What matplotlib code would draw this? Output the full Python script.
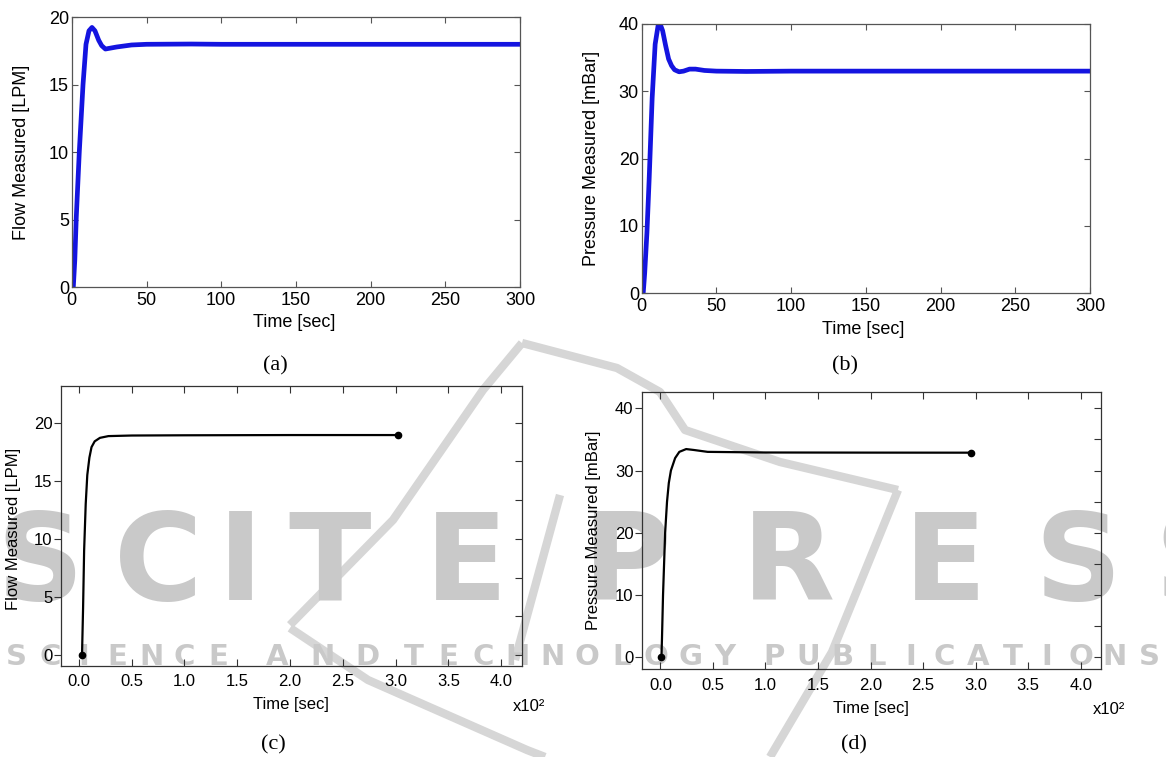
import numpy as np
import matplotlib
matplotlib.use('Agg')
import matplotlib.pyplot as plt
from matplotlib.lines import Line2D
from matplotlib.ticker import FormatStrFormatter

plt.rcParams['font.family'] = ['Liberation Sans', 'DejaVu Sans']

W, H = 1166, 757

# (a) flow measured [LPM], time in sec
time_a = [0, 1, 2, 3, 5, 7.5, 9.5, 11.5, 13.5, 15.5, 18, 20, 22.5, 25, 30, 40, 50, 80, 100, 300]
flow_a = [0, 0, 2.0, 5.2, 10, 15, 18, 19, 19.25, 19.0, 18.3, 17.9, 17.65, 17.7, 17.8, 17.95, 18.0, 18.02, 18.0, 18.0]

# (b) pressure measured [mBar], time in sec
time_b = [0, 1, 2, 3.5, 5, 7, 9, 11, 12.5, 14, 16, 18, 20, 22, 25, 28, 32, 36, 42, 50, 70, 100, 150, 300]
pres_b = [0, 0, 3, 9, 17, 29, 37, 39.8, 39.9, 39.0, 36.8, 34.8, 33.8, 33.2, 32.9, 33.0, 33.3, 33.3, 33.1, 33.0, 32.95, 33.0, 33.0, 33.0]

# (c) flow measured [LPM], time in x10^2 sec
time_c = [0.03, 0.04, 0.05, 0.065, 0.08, 0.10, 0.12, 0.15, 0.2, 0.28, 0.5, 1.0, 2.0, 3.02]
flow_c = [0, 4, 9, 13, 15.5, 17.0, 17.9, 18.4, 18.7, 18.85, 18.9, 18.92, 18.94, 18.94]

# (d) pressure measured [mBar], time in x10^2 sec
time_d = [0.01, 0.015, 0.025, 0.045, 0.063, 0.08, 0.1, 0.14, 0.18, 0.245, 0.32, 0.45, 1.0, 2.0, 2.96]
pres_d = [0, 3, 10, 20, 25, 28, 30, 32, 33.0, 33.45, 33.3, 33.0, 32.9, 32.88, 32.87]

captions = ['(a)', '(b)', '(c)', '(d)']


def box(left, top, right, bottom):
    return [left / W, 1 - bottom / H, (right - left) / W, (bottom - top) / H]


fig = plt.figure(figsize=(W / 100, H / 100), dpi=100)

#### watermark behind everything
wm = '#c9c9c9'
letters = 'SCITEPRESS'
letter_x = [40, 158, 240, 330, 466, 627, 788, 945, 1078, 1198]
for ch, x in zip(letters, letter_x):
    fig.text(x / W, 1 - 566 / H, ch, fontsize=87, fontweight='bold', color=wm,
             ha='center', va='center', family='DejaVu Sans', zorder=-5)

# subtitle words and their pixel spans
words = ['SCIENCE', 'AND', 'TECHNOLOGY', 'PUBLICATIONS']
word_span = [(0, 235), (255, 390), (397, 742), (757, 1166)]
for w, (x0, x1) in zip(words, word_span):
    step = (x1 - x0) / len(w)
    for i, ch in enumerate(w):
        fig.text((x0 + (i + 0.5) * step) / W, 1 - 657 / H, ch, fontsize=21, fontweight='bold',
                 color=wm, ha='center', va='center', family='DejaVu Sans', zorder=-5)

strokes = [
    [(290, 625), (393, 520), (483, 390), (522, 343)],
    [(522, 343), (617, 368), (660, 392), (685, 430), (780, 462), (898, 490)],
    [(898, 490), (832, 652), (770, 757)],
    [(290, 628), (368, 680), (527, 750), (545, 757)],
    [(560, 495), (515, 660)],
]
for s in strokes:
    xs = [p[0] / W for p in s]
    ys = [1 - p[1] / H for p in s]
    fig.add_artist(Line2D(xs, ys, color='#d6d6d6', lw=6, transform=fig.transFigure,
                          zorder=-6, solid_capstyle='butt', solid_joinstyle='round'))

#### FIGURE (a) and (b): matlab style
top_boxes = [box(71.8, 17.3, 520, 287.3), box(641.7, 24, 1090, 293.3)]
top_data = [(time_a, flow_a, 20, 5, 'Flow Measured [LPM]', -0.093, 0.496, -0.132),
            (time_b, pres_b, 40, 10, 'Pressure Measured [mBar]', -0.092, 0.493, -0.133)]

for b, (t, v, ymax, ystep, ylab, ylx, xlx, xly) in zip(top_boxes, top_data):
    ax = fig.add_axes(b)
    ax.set_facecolor('none')
    ax.plot(t, v, color='#1414e0', lw=3.4, solid_joinstyle='round')
    ax.set_xlim(0, 300)
    ax.set_ylim(0, ymax)
    ax.set_xticks(range(0, 301, 50))
    ax.set_yticks(range(0, ymax + 1, ystep))
    ax.tick_params(direction='in', top=True, right=True, length=4, width=0.8,
                   color='#555555', labelsize=13, pad=3.5)
    ax.tick_params(axis='y', pad=2)
    for sp in ax.spines.values():
        sp.set_color('#555555')
        sp.set_linewidth(0.9)
    ax.set_ylabel(ylab, fontsize=13)
    ax.yaxis.set_label_coords(ylx, 0.5)
    ax.set_xlabel('Time [sec]', fontsize=13)
    ax.xaxis.label.set_va('center')
    ax.xaxis.set_label_coords(xlx, xly)

#### FIGURE (c) and (d)
bot_boxes = [box(61, 385.7, 521.6, 665.7), box(641.7, 392.3, 1101.3, 669.3)]
bot_data = [(time_c, flow_c, (-0.169, 4.193), (-0.92, 23.19), np.arange(0, 21, 5),
             np.linspace(0, 20, 7), 'Flow Measured [LPM]', -0.087, 0.49, -0.140),
            (time_d, pres_d, (-0.178, 4.196), (-1.93, 42.57), np.arange(0, 41, 10),
             np.arange(0, 41, 5), 'Pressure Measured [mBar]', -0.089, 0.5, -0.140)]

for b, (t, v, xl, yl, yt, yt_right, ylab, ylx, yly, xly) in zip(bot_boxes, bot_data):
    ax = fig.add_axes(b)
    ax.set_facecolor('none')
    ax.plot(t, v, color='black', lw=1.6)
    ax.plot([t[0], t[-1]], [v[0], v[-1]], 'o', color='black', ms=4.5)
    ax.set_xlim(*xl)
    ax.set_ylim(*yl)
    ax.set_xticks(np.arange(0, 4.01, 0.5))
    ax.xaxis.set_major_formatter(FormatStrFormatter('%.1f'))
    ax.set_yticks(yt)
    ax.tick_params(axis='x', direction='in', top=True, length=5, width=0.8,
                   color='#333333', labelsize=12, pad=6)
    ax.tick_params(axis='y', direction='out', length=5, width=0.8,
                   color='#333333', labelsize=12, pad=1)
    for sp in ax.spines.values():
        sp.set_color('#333333')
        sp.set_linewidth(0.9)
    ax.set_ylabel(ylab, fontsize=12)
    ax.yaxis.set_label_coords(ylx, yly)
    ax.set_xlabel('Time [sec]', fontsize=12)
    ax.xaxis.label.set_va('center')
    ax.xaxis.set_label_coords(0.499, xly)

    ax2 = ax.twinx()
    ax2.set_ylim(*yl)
    ax2.set_yticks(yt_right)
    ax2.tick_params(direction='in', length=5, width=0.8, color='#333333', labelright=False)
    for sp in ax2.spines.values():
        sp.set_visible(False)

fig.text(529 / W, 1 - 706.7 / H, 'x10²', fontsize=12, ha='center', va='center')
fig.text(1108.8 / W, 1 - 710 / H, 'x10²', fontsize=12, ha='center', va='center')

cap_pos = [(275, 366), (844.6, 366), (273.8, 745), (854, 745)]
for c, (x, y) in zip(captions, cap_pos):
    fig.text(x / W, 1 - y / H, c, fontsize=16, family='Liberation Serif', ha='center', va='center')

fig.savefig('out.png', dpi=100)
